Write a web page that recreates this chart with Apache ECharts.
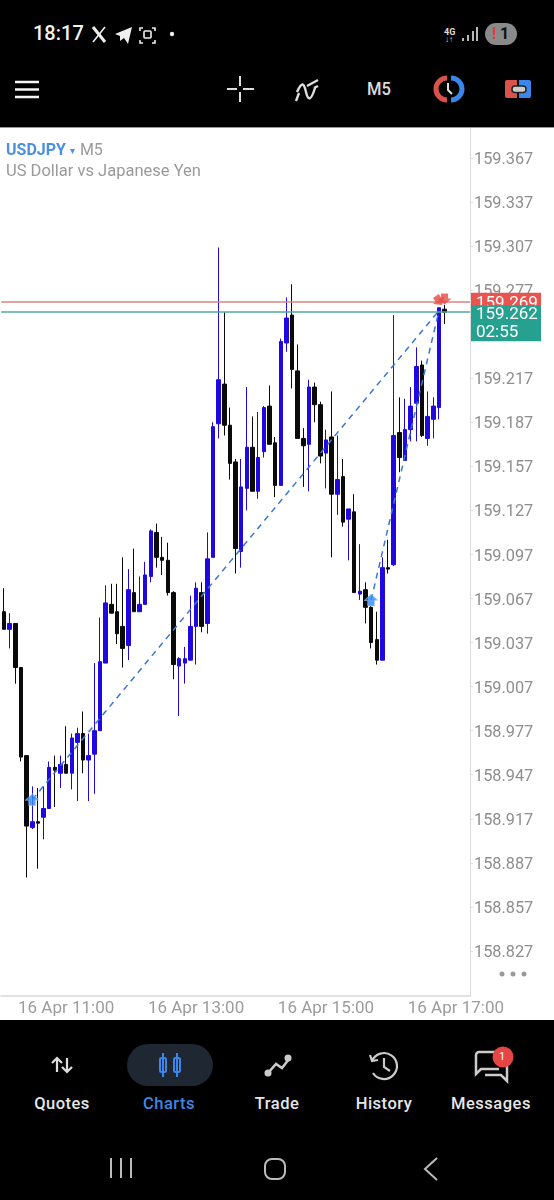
<!DOCTYPE html>
<html>
<head>
<meta charset="utf-8">
<title>USDJPY M5</title>
<script src="https://cdn.jsdelivr.net/npm/echarts@6/dist/echarts.min.js"></script>
<style>
html,body{margin:0;padding:0;background:#000;font-family:Roboto,sans-serif;}
#page{position:relative;width:554px;height:1200px;background:#000;overflow:hidden;}
#myEcharts{position:absolute;left:0;top:128px;width:554px;height:892px;background:#fff;}
.t{position:absolute;white-space:nowrap;line-height:1;}
.nav{position:absolute;top:1096px;font-size:16.5px;font-weight:500;color:#e6e6e6;letter-spacing:.5px;transform:translateX(-50%);}
svg{position:absolute;overflow:visible;}
</style>
</head>
<body>
<div id="page">
	<!-- status bar -->
	<div class="t" style="left:33px;top:23px;font-size:20px;font-weight:500;color:#f2f2f2;">18:17</div>
	<svg style="left:0;top:0" width="554" height="128" fill="none" stroke="#eee">
		<path d="M93 27l12 15" stroke-width="3"/>
		<path d="M105 27l-12 15" stroke-width="1.600"/>
		<path d="M115 34l17-7-4 17-4-6-4 3 0-5z" fill="#eee" stroke="none"/>
		<path d="M140 31v-3h3M152 28h3v3M155 40v3h-3M143 43h-3v-3" stroke-width="1.6"/>
		<rect x="144" y="31" width="7" height="7" rx="1" stroke-width="1.6"/>
		<circle cx="172" cy="34" r="2.2" fill="#eee" stroke="none"/>
		<path d="M463 41v-3M468 41v-6M473 41v-10M477 41v-14" stroke-width="1.8" stroke="#ccc"/>
		<rect x="485" y="23" width="32" height="22" rx="11" fill="#8a8a8a" stroke="none"/>
		<!-- toolbar -->
		<path d="M15 82h24M15 89.500h24M15 97h24" stroke="#f5f5f5" stroke-width="2.6"/>
		<path d="M227 89h10M243 89h11M240 76v10M240 92v10" stroke="#ddd" stroke-width="2"/>
		<path d="M296 101l3-8M297 92c5-11 7-9 9 0s5 9 9-4M307 86l11-6M314 88l4-2" stroke="#ddd" stroke-width="2.400"/>
		<path d="M447 78a11 11 0 0 0 0 22" stroke="#d9534a" stroke-width="5"/>
		<path d="M451 78a11 11 0 0 1 0 22" stroke="#3a86ea" stroke-width="5"/>
		<path d="M448 83v7l4 4" stroke="#ddd" stroke-width="2"/>
		<path d="M507 80h10v18h-10a2 2 0 0 1-2-2v-14a2 2 0 0 1 2-2z" fill="#d9534a" stroke="none"/>
		<path d="M519 80h10a2 2 0 0 1 2 2v14a2 2 0 0 1-2 2h-10z" fill="#3a86ea" stroke="none"/>
		<rect x="512" y="86" width="14" height="6.500" rx="3" fill="#ccc" stroke="#222" stroke-width="1.500"/>
	</svg>
	<div class="t" style="left:444px;top:28px;font-size:9px;font-weight:700;color:#ddd;">4G</div>
	<div class="t" style="left:445px;top:36px;font-size:8px;font-weight:700;color:#ddd;">↓↑</div>
	<div class="t" style="left:492px;top:26px;font-size:16px;font-weight:700;color:#e23b3b;">!</div>
	<div class="t" style="left:500px;top:26px;font-size:16px;font-weight:700;color:#111;">1</div>
	<div class="t" style="left:367px;top:80px;font-size:18px;font-weight:500;color:#ddd;transform:scaleX(.92);transform-origin:left;">M5</div>

	<div style="position:absolute;left:0;top:127px;width:554px;height:1px;background:#9a9a9a;"></div>
	<div id="myEcharts"></div>

	<!-- dots under the price scale -->
	<svg style="left:0;top:0" width="554" height="1000">
		<circle cx="502" cy="974" r="2.500" fill="#9a9a9a"/>
		<circle cx="513" cy="974" r="2.500" fill="#9a9a9a"/>
		<circle cx="524" cy="974" r="2.500" fill="#9a9a9a"/>
	</svg>

	<!-- bottom nav -->
	<div style="position:absolute;left:127px;top:1044px;width:86px;height:42px;border-radius:21px;background:#1f2733;"></div>
	<svg style="left:0;top:1020px" width="554" height="180" fill="none">
		<path d="M57 52v-14M52 43l5-5 5 5M67 38v14M62 47l5 5 5-5" stroke="#ddd" stroke-width="2.200"/>
		<path d="M163 33v24M177 33v24" stroke="#3a86ea" stroke-width="2"/>
		<rect x="160" y="38" width="6" height="14" rx="1.500" stroke="#3a86ea" stroke-width="2"/>
		<rect x="174" y="38" width="6" height="14" rx="1.500" stroke="#3a86ea" stroke-width="2"/>
		<path d="M268 53l8-9 6 4 7-9" stroke="#ccc" stroke-width="2.500"/>
		<circle cx="268" cy="53" r="3.500" fill="#ccc"/><circle cx="288" cy="38" r="3.500" fill="#ccc"/>
		<path d="M372 41A13 13 0 1 1 373 53M370 35l2 6 6-1M384 38v9l6 4" stroke="#ccc" stroke-width="2.200"/>
		<path d="M499 49h-18l-5 5v-19a3 3 0 0 1 3-3h20" stroke="#ccc" stroke-width="2.500"/>
		<path d="M485 55h16l6 6v-20" stroke="#ccc" stroke-width="2.500"/>
		<circle cx="503" cy="37" r="10.500" fill="#e64545"/>
		<path d="M111 138v20M121 138v20M131 138v20" stroke="#bbb" stroke-width="2"/>
		<rect x="265" y="139" width="20" height="20" rx="7" stroke="#bbb" stroke-width="2"/>
		<path d="M437 138l-12 11 12 11" stroke="#bbb" stroke-width="2"/>
	</svg>
	<div class="t" style="left:499px;top:1051px;font-size:11px;color:#fff;">1</div>
	<div class="t nav" style="left:62px;">Quotes</div>
	<div class="t nav" style="left:169px;color:#3f86e8;">Charts</div>
	<div class="t nav" style="left:277px;">Trade</div>
	<div class="t nav" style="left:384px;">History</div>
	<div class="t nav" style="left:491px;">Messages</div>
</div>

<script>
// 5 minute bars, left to right
var opens = [159.058,159.046,159.050,159.020,158.960,158.911,158.915,158.918,158.924,158.952,
	158.948,158.954,158.948,158.969,158.975,158.957,158.961,158.977,159.023,159.063,
	159.058,159.048,159.035,159.071,159.058,159.063,159.082,159.112,159.095,159.093,
	159.071,159.021,159.023,159.025,159.048,159.071,159.050,159.095,159.186,159.213,
	159.185,159.160,159.099,159.142,159.170,159.140,159.167,159.198,159.173,159.144,
	159.241,159.260,159.222,159.176,159.172,159.211,159.199,159.166,159.177,159.138,
	159.150,159.121,159.126,159.070,159.073,159.061,159.039,159.025,159.088,159.090,
	159.180,159.161,159.182,159.200,159.226,159.176,159.189,159.197,159.264];
var closes = [159.046,159.050,159.020,158.959,158.912,158.915,158.914,158.924,158.952,158.950,
	158.954,158.948,158.972,158.975,158.957,158.960,158.977,159.024,159.064,159.057,
	159.043,159.033,159.073,159.058,159.063,159.083,159.113,159.095,159.093,159.071,
	159.022,159.026,159.026,159.048,159.074,159.048,159.094,159.184,159.216,159.185,
	159.159,159.101,159.143,159.170,159.140,159.163,159.197,159.172,159.144,159.242,
	159.258,159.223,159.176,159.171,159.211,159.199,159.164,159.175,159.138,159.148,
	159.119,159.128,159.071,159.072,159.061,159.037,159.025,159.088,159.087,159.178,
	159.163,159.182,159.198,159.225,159.178,159.191,159.198,159.265,159.262];
var lows = [159.046,159.033,159.009,158.956,158.877,158.910,158.883,158.903,158.924,158.925,
	158.938,158.948,158.937,158.929,158.948,158.929,158.934,158.977,159.023,159.057,
	159.036,159.020,159.025,159.058,159.058,159.063,159.078,159.088,159.083,159.069,
	159.012,158.987,159.009,159.025,159.022,159.044,159.043,159.095,159.176,159.178,
	159.148,159.084,159.088,159.127,159.140,159.135,159.163,159.172,159.136,159.144,
	159.235,159.210,159.176,159.143,159.140,159.187,159.159,159.142,159.095,159.124,
	159.116,159.093,159.071,159.066,159.050,159.033,159.022,159.025,159.084,159.089,
	159.153,159.161,159.174,159.174,159.177,159.171,159.176,159.189,159.254];
var highs = [159.074,159.057,159.050,159.020,158.960,158.939,158.938,158.939,158.956,158.960,
	158.960,158.980,158.975,158.979,158.990,158.975,159.023,159.054,159.076,159.077,
	159.077,159.095,159.087,159.101,159.082,159.092,159.114,159.118,159.109,159.105,
	159.072,159.027,159.034,159.069,159.078,159.078,159.112,159.187,159.306,159.262,
	159.197,159.162,159.162,159.211,159.191,159.194,159.198,159.212,159.177,159.244,
	159.272,159.281,159.240,159.183,159.216,159.214,159.201,159.182,159.208,159.178,
	159.162,159.128,159.138,159.104,159.078,159.062,159.058,159.095,159.107,159.260,
	159.204,159.203,159.211,159.238,159.229,159.208,159.204,159.265,159.267];

// bar slots on the time axis, the last ones are still empty
var barTimes = ['16 Apr 10:05','16 Apr 10:10','16 Apr 10:15','16 Apr 10:20','16 Apr 10:25','16 Apr 10:30','16 Apr 10:35','16 Apr 10:40','16 Apr 10:45','16 Apr 10:50','16 Apr 10:55',
	'16 Apr 11:00','16 Apr 11:05','16 Apr 11:10','16 Apr 11:15','16 Apr 11:20','16 Apr 11:25','16 Apr 11:30','16 Apr 11:35','16 Apr 11:40','16 Apr 11:45','16 Apr 11:50','16 Apr 11:55',
	'16 Apr 12:00','16 Apr 12:05','16 Apr 12:10','16 Apr 12:15','16 Apr 12:20','16 Apr 12:25','16 Apr 12:30','16 Apr 12:35','16 Apr 12:40','16 Apr 12:45','16 Apr 12:50',
	'16 Apr 13:00','16 Apr 13:05','16 Apr 13:10','16 Apr 13:15','16 Apr 13:20','16 Apr 13:25','16 Apr 13:30','16 Apr 13:35','16 Apr 13:40','16 Apr 13:45','16 Apr 13:50','16 Apr 13:55',
	'16 Apr 14:00','16 Apr 14:05','16 Apr 14:10','16 Apr 14:15','16 Apr 14:20','16 Apr 14:25','16 Apr 14:30','16 Apr 14:35','16 Apr 14:40','16 Apr 14:45','16 Apr 14:50',
	'16 Apr 15:00','16 Apr 15:05','16 Apr 15:10','16 Apr 15:15','16 Apr 15:20','16 Apr 15:25','16 Apr 15:30','16 Apr 15:35','16 Apr 15:40','16 Apr 15:45','16 Apr 15:50','16 Apr 15:55',
	'16 Apr 16:00','16 Apr 16:05','16 Apr 16:10','16 Apr 16:15','16 Apr 16:20','16 Apr 16:25','16 Apr 16:30','16 Apr 16:35','16 Apr 16:40','16 Apr 16:45','16 Apr 16:50',
	'16 Apr 17:00','16 Apr 17:05','16 Apr 17:10'];
var timeTicks = ['16 Apr 11:00','16 Apr 13:00','16 Apr 15:00','16 Apr 17:00'];
var priceTicks = [159.367,159.337,159.307,159.277,159.247,159.217,159.187,159.157,159.127,159.097,159.067,159.037,159.007,158.977,158.947,158.917,158.887,158.857,158.827];

var askPrice = 159.269;
var bidPrice = 159.262;
var barCountdown = '02:55';

// trades: [bar index, price]
var tradeLineA = [[5,158.930],[77,159.263]];
var tradeLineB = [[65,159.066],[77,159.263]];
var buyArrows = [[5,158.930],[65,159.066]];
var sellArrows = [[77,159.270],[78,159.271]];

var upColor = '#2008e0';
var downColor = '#0a0a0a';
var lineBlue = '#3a78d4';

var candles = [];
for (var i = 0; i < opens.length; i++) {
	candles.push([opens[i], closes[i], lows[i], highs[i]]);
}

var myChart = echarts.init(document.getElementById('myEcharts'), null, {renderer: 'canvas'});

var options = {
	animation: false,
	backgroundColor: '#fff',
	textStyle: {fontFamily: 'Roboto'},
	title: {
		left: 6,
		top: 14,
		padding: 0,
		itemGap: 3,
		text: '{a|USDJPY} {b|▾} {c|M5}',
		subtext: 'US Dollar vs Japanese Yen',
		textStyle: {
			rich: {
				a: {fontFamily: 'Roboto', fontSize: 16, fontWeight: 700, color: '#4a90e2'},
				b: {fontFamily: 'Roboto', fontSize: 10, fontWeight: 'normal', color: '#4a90e2'},
				c: {fontFamily: 'Roboto', fontSize: 16, fontWeight: 'normal', color: '#9a9a9a'}
			}
		},
		subtextStyle: {fontFamily: 'Roboto', fontSize: 16.5, color: '#9a9a9a'}
	},
	grid: {left: 1.2, top: 0, width: 468.8, height: 868},
	xAxis: {
		type: 'category',
		data: barTimes,
		boundaryGap: true,
		axisLine: {show: true, lineStyle: {color: '#e2e2e2', width: 2}},
		axisTick: {show: false},
		splitLine: {show: false},
		axisLabel: {
			color: '#9c9c9c',
			fontFamily: 'Roboto',
			fontSize: 17,
			margin: 4,
			hideOverlap: false,
			interval: function(index, value) {
				return timeTicks.indexOf(value) >= 0;
			}
		}
	},
	yAxis: {
		type: 'value',
		position: 'right',
		min: 158.7963,
		max: 159.3874,
		scale: true,
		splitLine: {show: false},
		axisLine: {show: true, onZero: false, lineStyle: {color: '#dcdcdc', width: 1}},
		axisTick: {show: true, length: 3, lineStyle: {color: '#dcdcdc'}, customValues: priceTicks},
		axisLabel: {
			color: '#8e8e8e',
			fontFamily: 'Roboto',
			fontSize: 16.3,
			margin: 4,
			// sits a bit under the tick, as in the app
			verticalAlign: 'top',
			lineHeight: 4,
			customValues: priceTicks,
			formatter: function(v) { return v.toFixed(3); }
		}
	},
	series: [{
		name: 'USDJPY',
		type: 'candlestick',
		data: candles,
		barWidth: 4,
		itemStyle: {
			color: upColor,
			color0: downColor,
			borderColor: upColor,
			borderColor0: downColor,
			borderWidth: 1
		},
		markLine: {
			silent: true,
			symbol: 'none',
			precision: 3,
			label: {show: false},
			animation: false,
			data: [
				{yAxis: askPrice, lineStyle: {color: '#d98383', width: 1.5, type: 'solid'}},
				{yAxis: bidPrice, lineStyle: {color: '#4fa898', width: 1.5, type: 'solid'}}
			]
		}
	}, {
		type: 'line',
		data: tradeLineA,
		symbol: 'none',
		z: 5,
		lineStyle: {color: lineBlue, width: 1.5, type: [6, 5]}
	}, {
		type: 'line',
		data: tradeLineB,
		symbol: 'none',
		z: 5,
		lineStyle: {color: lineBlue, width: 1.5, type: [6, 5]}
	}, {
		type: 'scatter',
		data: buyArrows,
		z: 6,
		symbol: 'path://M6 0 L12 6 L9 6 L9 11 L3 11 L3 6 L0 6 Z',
		symbolSize: [14, 12],
		itemStyle: {color: '#2f8cff', borderColor: '#d5e6ff', borderWidth: 0.6}
	}, {
		type: 'scatter',
		data: sellArrows,
		z: 6,
		symbol: 'path://M3 0 L9 0 L9 5 L12 5 L6 11 L0 5 L3 5 Z',
		symbolSize: [14, 11],
		symbolRotate: function(v, params) { return params.dataIndex === 0 ? 35 : 0; },
		itemStyle: {color: '#e64a45'}
	}]
};
myChart.setOption(options);

// price tags on the scale, hung on the axis position of the two prices
var askY = myChart.convertToPixel({yAxisIndex: 0}, askPrice);
var bidY = myChart.convertToPixel({yAxisIndex: 0}, bidPrice);
myChart.setOption({
	graphic: [
		{type: 'rect', z: 100, shape: {x: 471, y: askY - 9, width: 70, height: 18}, style: {fill: '#e85450'}},
		{type: 'text', z: 101, x: 476, y: askY - 7, style: {text: askPrice.toFixed(3), fill: '#fff', fontFamily: 'Roboto', fontSize: 17, lineHeight: 18}},
		{type: 'rect', z: 102, shape: {x: 471, y: bidY - 7, width: 70, height: 36}, style: {fill: '#26a08f'}},
		{type: 'text', z: 103, x: 476, y: bidY - 6, style: {text: bidPrice.toFixed(3), fill: '#fff', fontFamily: 'Roboto', fontSize: 17, lineHeight: 18}},
		{type: 'text', z: 103, x: 476, y: bidY + 12, style: {text: barCountdown, fill: '#fff', fontFamily: 'Roboto', fontSize: 17, lineHeight: 18}}
	]
});
</script>
</body>
</html>
